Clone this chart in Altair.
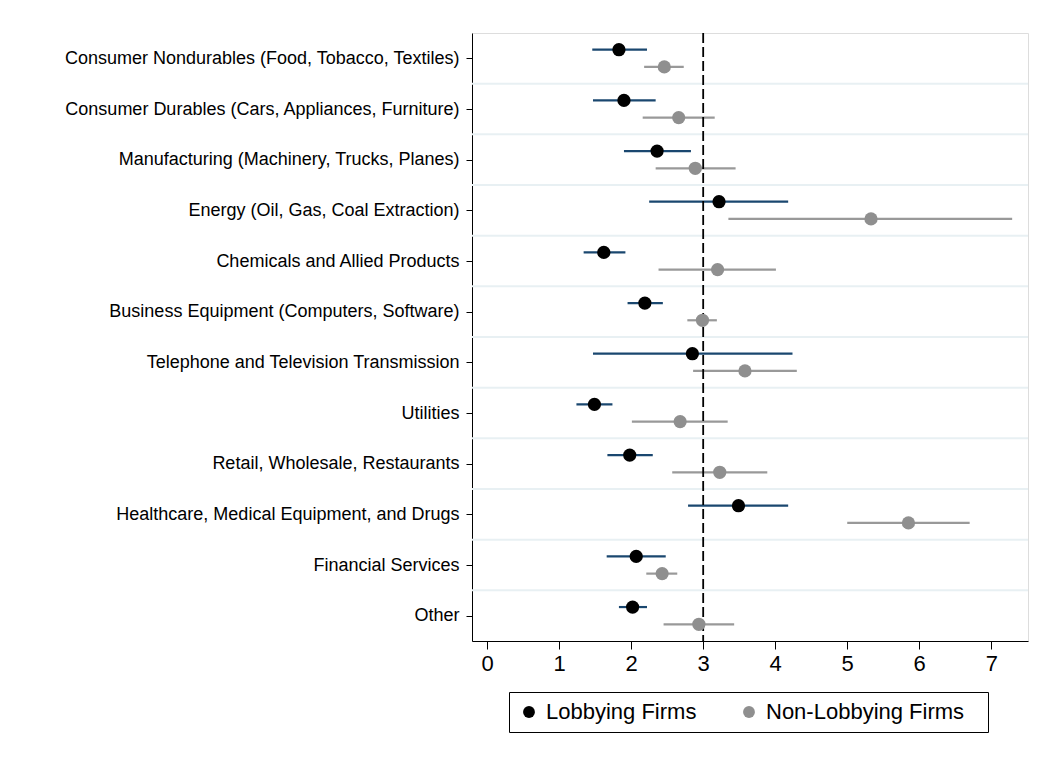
import altair as alt
import pandas as pd

categories = [
    "Consumer Nondurables (Food, Tobacco, Textiles)",
    "Consumer Durables (Cars, Appliances, Furniture)",
    "Manufacturing (Machinery, Trucks, Planes)",
    "Energy  (Oil, Gas, Coal Extraction)",
    "Chemicals and Allied Products",
    "Business Equipment (Computers, Software)",
    "Telephone and Television Transmission",
    "Utilities",
    "Retail, Wholesale, Restaurants",
    "Healthcare, Medical Equipment, and Drugs",
    "Financial Services",
    "Other",
]

series_names = ["Lobbying Firms", "Non-Lobbying Firms"]

lobby_est = [1.83, 1.90, 2.36, 3.22, 1.62, 2.19, 2.85, 1.49, 1.98, 3.49, 2.07, 2.02]
lobby_lo = [1.46, 1.47, 1.90, 2.25, 1.34, 1.95, 1.47, 1.24, 1.67, 2.79, 1.66, 1.83]
lobby_hi = [2.22, 2.34, 2.83, 4.18, 1.92, 2.44, 4.24, 1.74, 2.30, 4.18, 2.48, 2.22]

non_est = [2.46, 2.66, 2.89, 5.33, 3.20, 2.99, 3.58, 2.68, 3.23, 5.85, 2.43, 2.94]
non_lo = [2.18, 2.16, 2.34, 3.35, 2.38, 2.78, 2.86, 2.01, 2.57, 5.00, 2.21, 2.45]
non_hi = [2.73, 3.16, 3.45, 7.29, 4.01, 3.19, 4.30, 3.34, 3.89, 6.70, 2.64, 3.43]

x_ticks = [0, 1, 2, 3, 4, 5, 6, 7]
ref_value = [3]

rows = []
for i, c in enumerate(categories):
    rows.append(dict(idx=i, cat=c, series=series_names[0],
                     est=lobby_est[i], lo=lobby_lo[i], hi=lobby_hi[i]))
    rows.append(dict(idx=i, cat=c, series=series_names[1],
                     est=non_est[i], lo=non_lo[i], hi=non_hi[i]))
df = pd.DataFrame(rows)

n = len(categories)
grid_df = pd.DataFrame({"b": [i + 0.5 for i in range(n - 1)]})
ref_df = pd.DataFrame({"ref": ref_value})

FONT = "Liberation Sans"

yscale = alt.Scale(domain=[-0.5, n - 0.5], reverse=True, nice=False, zero=False)
xscale = alt.Scale(domain=[-0.21, 7.51], nice=False, zero=False)

label_expr = "[" + ",".join("'" + c + "'" for c in categories) + "][datum.value]"

y_axis = alt.Axis(
    values=list(range(n)), labelExpr=label_expr, title=None, grid=False,
    domainColor="black", tickColor="black", tickSize=6, labelPadding=7,
    labelFontSize=18, labelColor="black", labelFont=FONT, labelLimit=1000,
)
x_axis = alt.Axis(
    values=x_ticks, title=None, grid=False, domainColor="black",
    tickColor="black", tickSize=8, labelPadding=4, labelFontSize=22,
    labelColor="black", labelFont=FONT, labelFlush=False,
)

grid = alt.Chart(grid_df).mark_rule(color="#e8f0f3", strokeWidth=2).encode(
    y=alt.Y("b:Q", scale=yscale, axis=y_axis)
)

ref = alt.Chart(ref_df).mark_rule(color="black", strokeWidth=1.8, strokeDash=[10, 4]).encode(
    x=alt.X("ref:Q", scale=xscale, axis=x_axis)
)

base = alt.Chart(df).transform_calculate(
    ypos="datum.idx + (datum.series == '" + series_names[0] + "' ? -0.17 : 0.17)"
)

ci = base.mark_rule(strokeWidth=2.2).encode(
    x=alt.X("lo:Q", scale=xscale, axis=x_axis),
    x2="hi:Q",
    y=alt.Y("ypos:Q", scale=yscale, axis=y_axis),
    color=alt.Color("series:N", scale=alt.Scale(domain=series_names,
                                                range=["#1a476f", "#999999"]),
                    legend=None),
)

pts = base.mark_circle(size=175, opacity=1).encode(
    x=alt.X("est:Q", scale=xscale, axis=x_axis),
    y=alt.Y("ypos:Q", scale=yscale, axis=y_axis),
    color=alt.Color(
        "series:N",
        scale=alt.Scale(domain=series_names, range=["#000000", "#8f8f8f"]),
        legend=alt.Legend(
            title=" ", titleOrient="right", titleFontSize=1, titlePadding=15,
            orient="none", direction="horizontal",
            legendX=37, legendY=659,
            strokeColor="black", padding=9, symbolType="circle",
            symbolSize=140, symbolStrokeWidth=0, labelFontSize=22,
            labelFont=FONT, labelColor="black", labelOffset=6,
            columnPadding=41, fillColor="white", labelLimit=1000,
        ),
    ),
)

chart = (
    alt.layer(grid, ci, ref, pts)
    .resolve_scale(color="independent")
    .properties(
        width=556, height=608,
        autosize=alt.AutoSizeParams(type="none"),
        padding={"left": 464, "top": 25, "right": 6, "bottom": 115},
        background="white",
    )
    .configure_view(stroke=None)
    .configure(font=FONT)
)

chart.save("out.html", embed_options={"renderer": "svg", "actions": False})
